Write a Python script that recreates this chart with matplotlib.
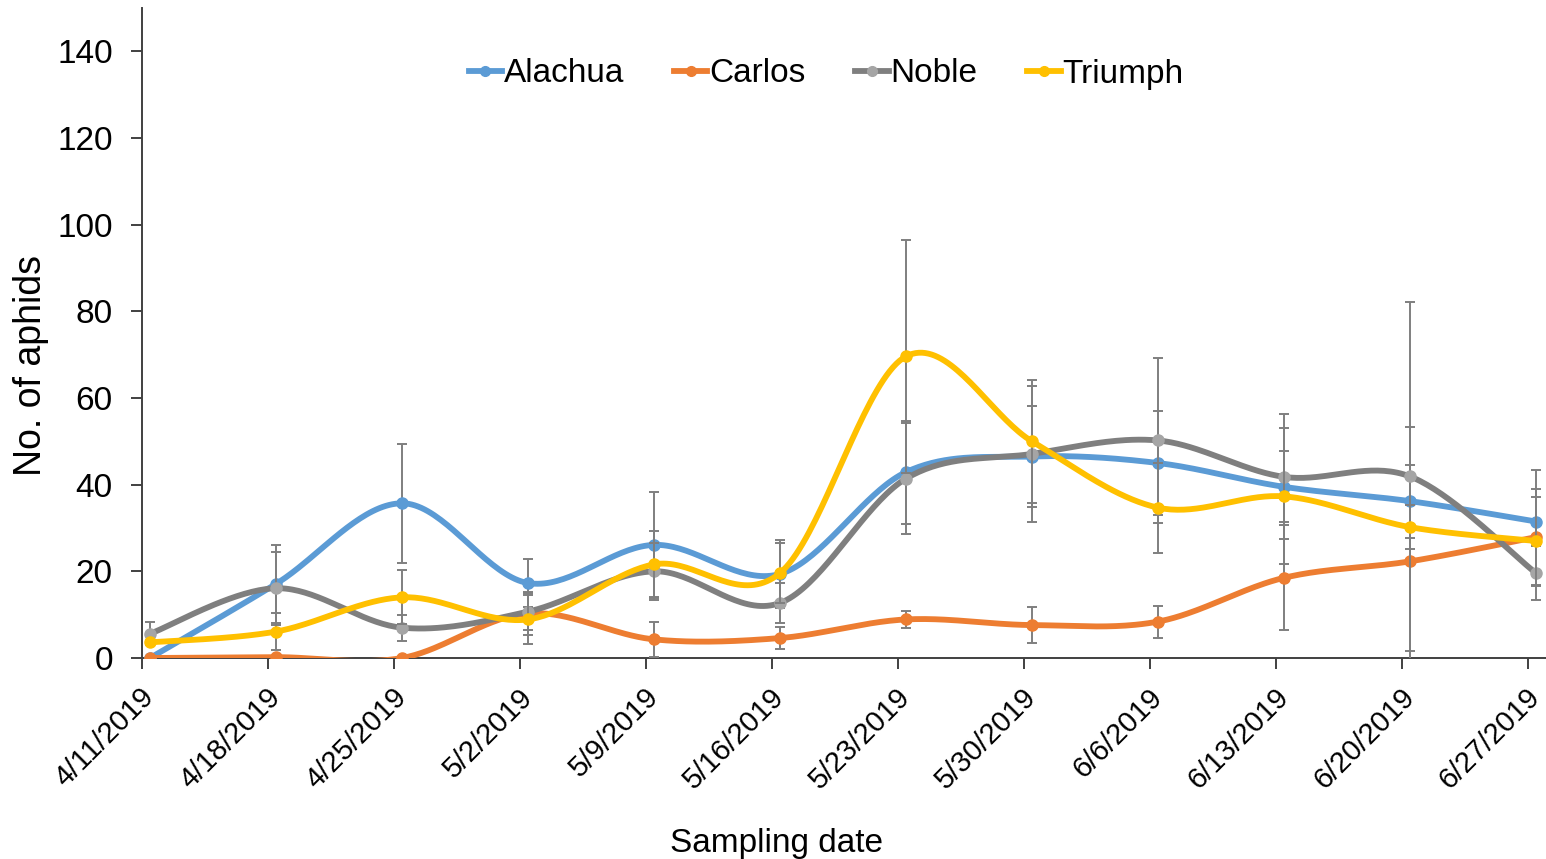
import numpy as np
import matplotlib
matplotlib.use("Agg")
import matplotlib.pyplot as plt
from matplotlib.lines import Line2D

plt.rcParams['font.family'] = ['Liberation Sans', 'DejaVu Sans']

dates = ["4/11/2019", "4/18/2019", "4/25/2019", "5/2/2019", "5/9/2019", "5/16/2019",
         "5/23/2019", "5/30/2019", "6/6/2019", "6/13/2019", "6/20/2019", "6/27/2019"]

alachua = [0, 17.1, 35.7, 17.3, 26.1, 19.4, 42.9, 46.5, 45.0, 39.5, 36.2, 31.5]
alachua_se = [0, 9.0, 13.8, 5.6, 12.1, 7.8, 11.9, 11.6, 11.9, 8.2, 8.4, 12.0]
carlos = [0, 0.2, 0, 10.3, 4.3, 4.6, 8.9, 7.6, 8.4, 18.5, 22.3, 27.9]
carlos_se = [0, 0.3, 0, 4.9, 4.1, 2.5, 1.9, 4.2, 3.7, 12.1, 31.0, 11.2]
noble = [5.6, 16.1, 7.0, 10.7, 20.0, 12.7, 41.4, 47.1, 50.2, 41.8, 41.9, 19.6]
noble_se = [2.6, 8.4, 3.0, 4.2, 6.6, 4.6, 12.8, 15.6, 19.0, 14.4, 40.3, 6.2]
triumph = [3.6, 6.1, 14.0, 8.9, 21.6, 19.6, 69.6, 50.0, 34.7, 37.3, 30.2, 27.0]
triumph_se = [0.5, 4.2, 6.2, 5.7, 7.8, 7.0, 26.9, 14.2, 10.4, 15.7, 5.0, 10.1]

names = ["Alachua", "Carlos", "Noble", "Triumph"]
line_colors = ["#5b9bd5", "#ed7d31", "#7f7f7f", "#ffc000"]
marker_colors = ["#5b9bd5", "#ed7d31", "#a5a5a5", "#ffc000"]


def smooth(x, y, n=40):
    # Excel-like smoothed line (Catmull-Rom as cubic Bezier)
    p = np.column_stack([x, y]).astype(float)
    pe = np.vstack([p[0], p, p[-1]])
    t = np.linspace(0, 1, n)[:, None]
    out = []
    for i in range(len(p) - 1):
        p0, p1, p2, p3 = pe[i], pe[i + 1], pe[i + 2], pe[i + 3]
        c1 = p1 + (p2 - p0) / 6
        c2 = p2 - (p3 - p1) / 6
        seg = (1 - t)**3 * p1 + 3 * (1 - t)**2 * t * c1 + 3 * (1 - t) * t**2 * c2 + t**3 * p2
        out.append(seg if i == 0 else seg[1:])
    out = np.vstack(out)
    return out[:, 0], out[:, 1]


fig = plt.figure(figsize=(15.46, 8.59), dpi=100)
ax = fig.add_axes([142 / 1546, 1 - 658 / 859, 1404 / 1546, 650 / 859])

x = np.arange(len(dates))
series = [(alachua, alachua_se), (carlos, carlos_se), (noble, noble_se), (triumph, triumph_se)]

z = 2
for (vals, se), name, lc, mc in zip(series, names, line_colors, marker_colors):
    ax.errorbar(x, vals, yerr=se, fmt='none', ecolor='#7f7f7f', elinewidth=1.4,
                capsize=3.5, capthick=1.4, zorder=z)
    sx, sy = smooth(x, vals)
    ax.plot(sx, sy, color=lc, lw=4.2, solid_capstyle='round', zorder=z + 1)
    ax.plot(x, vals, 'o', color=mc, ms=8, zorder=z + 1)
    z += 2

off = 8 / 126
ax.set_xlim(-off, 11.08)
ax.set_ylim(0, 150)
ax.set_yticks(np.arange(0, 141, 20))

ax.set_xticks(x)
ax.set_xticklabels(dates, rotation=45, ha='right', va='center', rotation_mode='anchor', fontsize=21)
ax.tick_params(axis='x', length=0, pad=25)
ax.set_xticks(x - off, minor=True)
ax.tick_params(axis='x', which='minor', length=8, width=1.4, color='#404040', direction='out')
ax.tick_params(axis='y', labelsize=24, length=8, width=1.4, color='#404040', pad=13)

for s in ['top', 'right']:
    ax.spines[s].set_visible(False)
for s in ['left', 'bottom']:
    ax.spines[s].set_color('#404040')
    ax.spines[s].set_linewidth(1.4)

ax.set_ylabel("No. of aphids", fontsize=27)
ax.yaxis.set_label_coords(-0.066, 0.45)
ax.set_xlabel("Sampling date", fontsize=24)
ax.xaxis.set_label_coords(0.4516, -0.262)

handles = [Line2D([], [], color=lc, lw=4.2, marker='o', ms=7, markerfacecolor=mc, markeredgecolor=mc)
           for lc, mc in zip(line_colors, marker_colors)]
fig.legend(handles, names, loc='center', bbox_to_anchor=(826 / 1546, 1 - 74 / 859), ncol=4,
           frameon=False, fontsize=24, handlelength=1.0, handletextpad=0.05, columnspacing=1.5)

fig.savefig("out.png", dpi=100)
